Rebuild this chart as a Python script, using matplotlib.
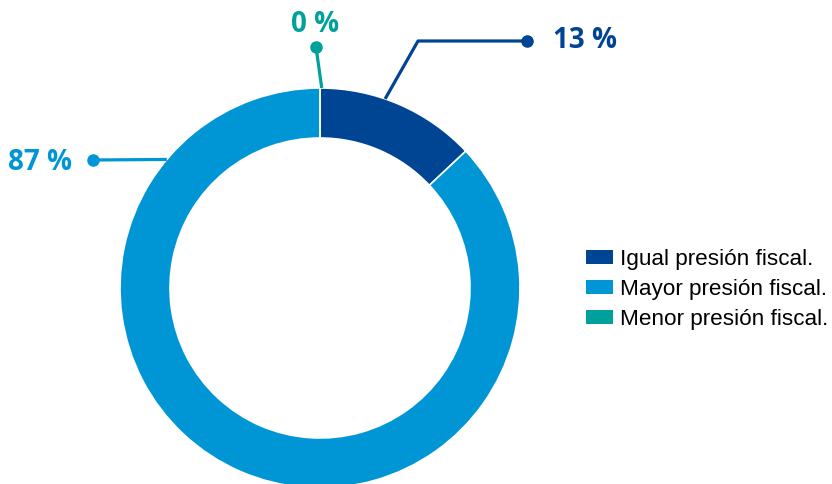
import numpy as np
import matplotlib.pyplot as plt
from matplotlib.patches import Patch

categories = ["Igual presión fiscal.", "Mayor presión fiscal.", "Menor presión fiscal."]
values = [13, 87, 0]
value_labels = ["13 %", "87 %", "0 %"]
colors = ["#004494", "#0096D6", "#00A19A"]

W, H = 832, 484
fig = plt.figure(figsize=(8.32, 4.84), dpi=100)
ax = fig.add_axes([0, 0, 1, 1])

cx, cy, r = 320, H - 288, 200
wedges, _ = ax.pie(
    values,
    colors=colors,
    radius=r,
    center=(cx, cy),
    startangle=90,
    counterclock=False,
    wedgeprops=dict(width=50, edgecolor="white", linewidth=1.2),
)
ax.set_xlim(0, W)
ax.set_ylim(0, H)
ax.set_aspect("equal")
ax.axis("off")

# leader lines: anchor angle (deg clockwise from top), optional elbow, end dot, text pos, alignment
leaders = [
    (19, (418, 41), (527, 41), (553, 41), "left"),
    (310, None, (93, 160), (72, 162), "right"),
    (0.5, None, (316, 47), (315, 25), "center"),
]

for (ang, elbow, end, txt, ha), lab, col in zip(leaders, value_labels, colors):
    a = np.radians(ang)
    x0 = cx + r * np.sin(a)
    y0 = cy + r * np.cos(a)
    xs = [x0]
    ys = [y0]
    if elbow is not None:
        xs.append(elbow[0])
        ys.append(H - elbow[1])
    xs.append(end[0])
    ys.append(H - end[1])
    ax.plot(xs, ys, color=col, lw=2.3, solid_capstyle="butt")
    ax.plot(end[0], H - end[1], "o", color=col, ms=8)
    ax.text(txt[0], H - txt[1], lab, color=col, ha=ha, va="center",
            fontsize=20, fontweight="bold", family="Open Sans")

handles = [Patch(facecolor=c, edgecolor="none") for c in colors]
ax.legend(
    handles, categories,
    loc="center left",
    bbox_to_anchor=(586, H - 289),
    bbox_transform=ax.transData,
    frameon=False,
    prop={"family": "Liberation Sans", "size": 16.2},
    handlelength=1.2,
    handleheight=0.58,
    handletextpad=0.3,
    labelspacing=0.4,
    borderpad=0,
    borderaxespad=0,
)

fig.savefig("out.png", dpi=100)
